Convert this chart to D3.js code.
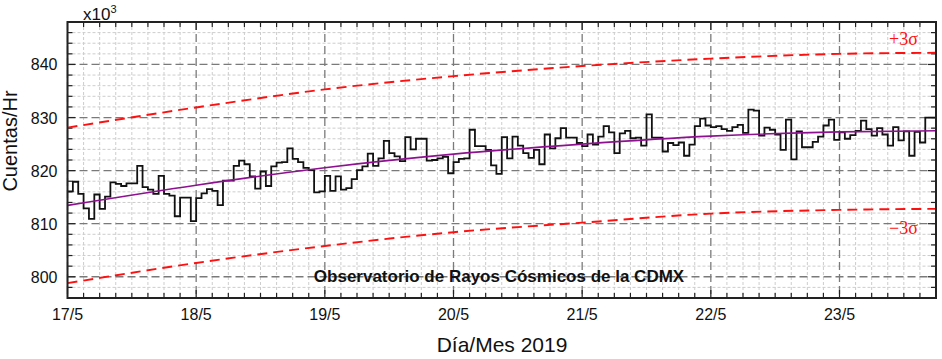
<!DOCTYPE html>
<html><head><meta charset="utf-8">
<script src="https://cdn.jsdelivr.net/npm/d3@7"></script>
<style>body{margin:0;background:#fff;}svg{display:block;}</style>
</head><body>
<svg id="c" width="942" height="359"></svg>
<script>
// Hourly counts (x10^3), starting 17/5 00:00
const counts = [
816.1,817.9,815.6,812.9,810.9,815.5,812.8,815.1,817.8,817.5,
817.1,817.6,817.6,820.9,816.9,816.4,815.6,819.0,815.6,815.3,
811.4,814.9,814.9,810.5,814.8,815.7,816.5,816.2,813.5,818.1,
818.1,820.9,821.9,821.2,818.9,816.6,819.8,817.1,820.8,821.5,
821.6,824.2,822.2,821.6,820.5,820.1,815.9,816.1,819.0,816.2,
818.9,816.4,816.7,818.4,820.1,820.8,823.2,820.9,822.3,825.6,
823.3,822.7,821.8,826.3,824.0,826.0,826.0,821.9,822.0,822.3,
822.6,819.5,821.6,822.2,822.3,827.7,824.6,824.6,823.9,821.0,
819.4,826.3,822.3,826.4,824.7,823.3,822.4,823.9,821.2,826.8,
824.2,826.1,828.0,826.2,826.2,825.2,824.6,826.8,824.9,826.4,
828.4,827.2,823.3,827.0,827.5,826.1,826.2,824.7,830.6,826.2,
826.2,823.6,825.2,824.8,825.3,822.8,824.9,828.4,829.8,828.5,
828.2,828.4,827.8,827.5,828.2,828.6,827.1,831.5,831.3,826.6,
828.1,827.7,826.8,823.9,829.6,822.1,827.4,824.4,824.4,825.4,
826.4,828.5,829.6,825.8,827.2,826.0,826.7,827.5,829.4,827.8,
826.6,828.0,826.8,824.7,828.2,825.7,827.4,822.8,827.3,825.3,
830.0,830.0
];
// Fit and ±3σ bands, read at day marks (days since 17/5)
const fitDays = [0,1,2,3,4,5,6,6.75];
const fitValues = [813.45,817.25,820.55,823.1,825.0,826.5,827.3,827.5];
const upperValues = [828.1,831.9,835.3,837.8,839.7,841.1,842.0,842.2];
const lowerValues = [798.8,802.6,805.8,808.4,810.2,811.9,812.6,812.8];
const xTickLabels = ["17/5","18/5","19/5","20/5","21/5","22/5","23/5"];
const yTicks = [800,810,820,830,840];

const svg = d3.select("#c");
const L=67.5, R=936, T=22, B=298;
const totalHours = counts.length;
const x = d3.scaleLinear().domain([0,totalHours]).range([L,R]);
const y = d3.scaleLinear().domain([796,848]).range([B,T]);

svg.append("defs").append("clipPath").attr("id","clip")
  .append("rect").attr("x",L).attr("y",T).attr("width",R-L).attr("height",B-T);

const g = svg.append("g");
// minor grid
const minorX = d3.range(0,totalHours+0.01,3).filter(h=>h%24!==0);
const minorY = d3.range(796,848.01,2).filter(v=>v%10!==0);
g.selectAll(".mgx").data(minorX).join("line")
  .attr("x1",d=>x(d)).attr("x2",d=>x(d)).attr("y1",T).attr("y2",B)
  .attr("stroke","#cdcdcd").attr("stroke-width",1).attr("stroke-dasharray","3,2");
g.selectAll(".mgy").data(minorY).join("line")
  .attr("y1",d=>y(d)).attr("y2",d=>y(d)).attr("x1",L).attr("x2",R)
  .attr("stroke","#cdcdcd").attr("stroke-width",1).attr("stroke-dasharray","3,2");
// major grid
const majorX = xTickLabels.map((d,i)=>i*24);
g.selectAll(".Mgx").data(majorX).join("line")
  .attr("x1",d=>x(d)).attr("x2",d=>x(d)).attr("y1",T).attr("y2",B)
  .attr("stroke","#7a7a7a").attr("stroke-width",1.3).attr("stroke-dasharray","8,4");
g.selectAll(".Mgy").data(yTicks).join("line")
  .attr("y1",d=>y(d)).attr("y2",d=>y(d)).attr("x1",L).attr("x2",R)
  .attr("stroke","#7a7a7a").attr("stroke-width",1.3).attr("stroke-dasharray","8,4");

// ticks (inward) on all four sides
const tickG = svg.append("g").attr("stroke","#222").attr("stroke-width",1.2);
const allX = d3.range(3,totalHours,3);
allX.forEach(h=>{
  const len = h%24===0?8:5;
  tickG.append("line").attr("x1",x(h)).attr("x2",x(h)).attr("y1",B).attr("y2",B-len);
  tickG.append("line").attr("x1",x(h)).attr("x2",x(h)).attr("y1",T).attr("y2",T+len);
});
d3.range(798,848,2).forEach(v=>{
  const len = v%10===0?8:5;
  tickG.append("line").attr("y1",y(v)).attr("y2",y(v)).attr("x1",L).attr("x2",L+len);
  tickG.append("line").attr("y1",y(v)).attr("y2",y(v)).attr("x1",R).attr("x2",R-len);
});

const plot = svg.append("g").attr("clip-path","url(#clip)");
// sigma bands
const bandLine = d3.line().x(d=>x(d[0]*24)).y(d=>y(d[1])).curve(d3.curveMonotoneX);
plot.append("path").datum(fitDays.map((d,i)=>[d,upperValues[i]]))
  .attr("d",bandLine).attr("fill","none").attr("stroke","#ff1010").attr("stroke-width",1.9).attr("stroke-dasharray","10,6");
plot.append("path").datum(fitDays.map((d,i)=>[d,lowerValues[i]]))
  .attr("d",bandLine).attr("fill","none").attr("stroke","#ff1010").attr("stroke-width",1.9).attr("stroke-dasharray","10,6");

// step histogram
const stepPts = counts.map((v,i)=>[i,v]).concat([[totalHours,counts[counts.length-1]]]);
plot.append("path").datum(stepPts)
  .attr("d",d3.line().x(d=>x(d[0])).y(d=>y(d[1])).curve(d3.curveStepAfter))
  .attr("fill","none").attr("stroke","#111").attr("stroke-width",1.8);

// fit
plot.append("path").datum(fitDays.map((d,i)=>[d,fitValues[i]]))
  .attr("d",bandLine).attr("fill","none").attr("stroke","#8e1190").attr("stroke-width",1.6);

// frame
svg.append("rect").attr("x",L).attr("y",T).attr("width",R-L).attr("height",B-T)
  .attr("fill","none").attr("stroke","#222").attr("stroke-width",2);

const font = "Liberation Sans, Arial, sans-serif";
// y tick labels
svg.selectAll(".yl").data(yTicks).join("text")
  .attr("x",L-10).attr("y",d=>y(d)+6).attr("text-anchor","end")
  .attr("font-family",font).attr("font-size",16).attr("fill","#111").text(d=>d);
// x tick labels
svg.selectAll(".xl").data(xTickLabels).join("text")
  .attr("x",(d,i)=>x(i*24)).attr("y",320).attr("text-anchor","middle")
  .attr("font-family",font).attr("font-size",16).attr("fill","#111").text(d=>d);
// exponent
const ex = svg.append("text").attr("x",83).attr("y",20).attr("font-family",font).attr("font-size",17).attr("fill","#111");
ex.append("tspan").text("x10");
ex.append("tspan").attr("font-size",11).attr("dy",-7).text("3");
// axis titles
svg.append("text").attr("transform","translate(17,141) rotate(-90)").attr("text-anchor","middle")
  .attr("font-family",font).attr("font-size",20).attr("fill","#111").text("Cuentas/Hr");
svg.append("text").attr("x",502).attr("y",352).attr("text-anchor","middle")
  .attr("font-family",font).attr("font-size",21).attr("fill","#111").text("Día/Mes 2019");
// annotation
svg.append("text").attr("x",499).attr("y",282).attr("text-anchor","middle")
  .attr("font-family",font).attr("font-size",17).attr("font-weight","bold").attr("fill","#111")
  .text("Observatorio de Rayos Cósmicos de la CDMX");
const serif = "Liberation Serif, Times New Roman, serif";
svg.append("text").attr("x",889).attr("y",45).attr("font-family",serif).attr("font-size",18).attr("fill","#ff1010").text("+3σ");
svg.append("text").attr("x",889).attr("y",234).attr("font-family",serif).attr("font-size",18).attr("fill","#ff1010").text("−3σ");
</script>
</body></html>
